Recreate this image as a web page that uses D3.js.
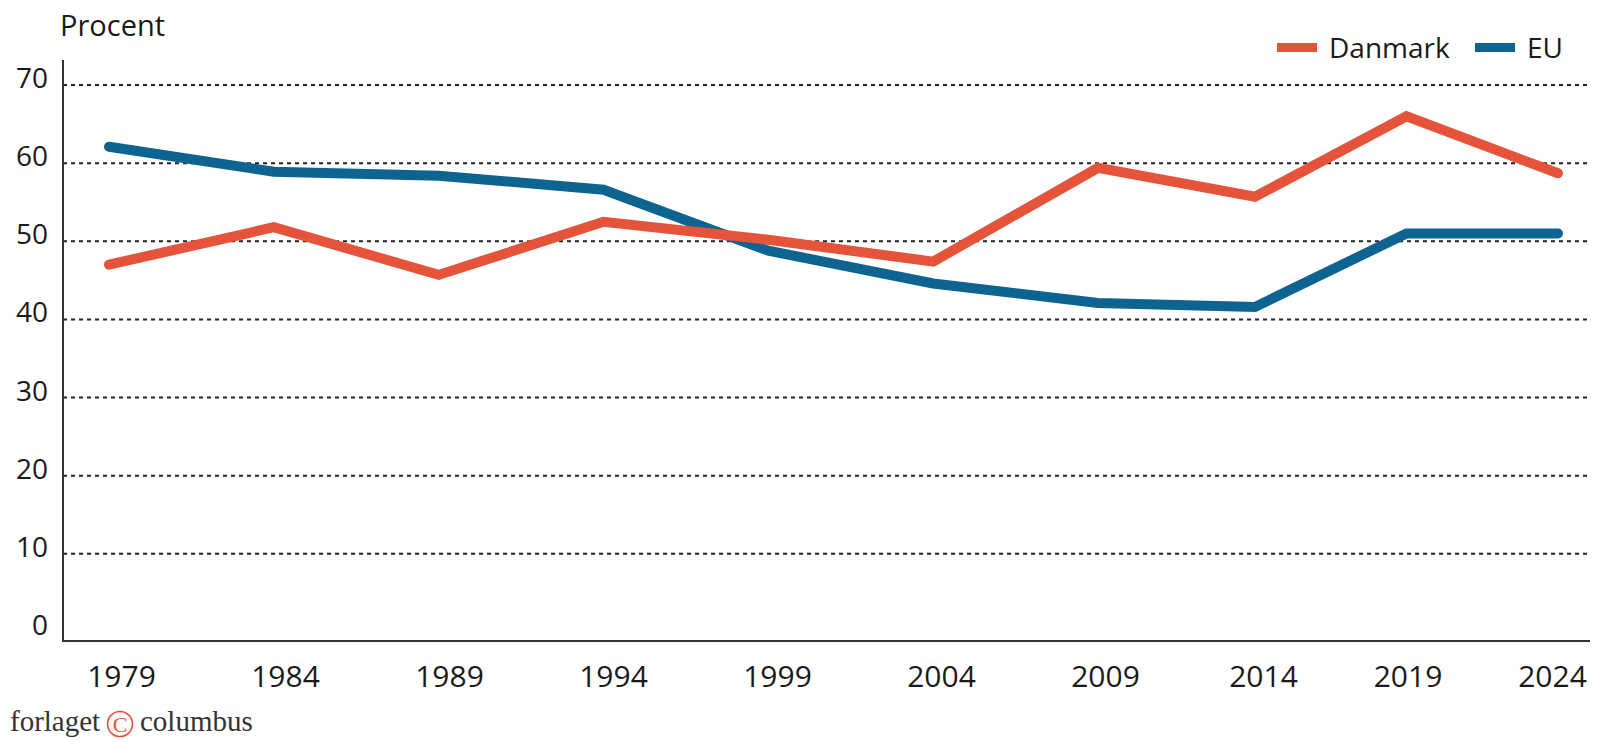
<!DOCTYPE html>
<html>
<head>
<meta charset="utf-8">
<script src="https://cdn.jsdelivr.net/npm/d3@7"></script>
<style>
  html, body { margin: 0; padding: 0; background: #fff; }
  svg { display: block; font-family: "Open Sans", "Noto Sans", sans-serif; }
</style>
</head>
<body>
<svg id="chart" width="1611" height="742"></svg>
<script>
// ─── DATA ───
const years = [1979, 1984, 1989, 1994, 1999, 2004, 2009, 2014, 2019, 2024];
const danmark = [47.0, 51.8, 45.7, 52.5, 50.2, 47.4, 59.4, 55.7, 66.0, 58.7];
const eu = [62.1, 58.9, 58.4, 56.6, 48.8, 44.6, 42.1, 41.6, 51.0, 51.0];
const yTicks = [0, 10, 20, 30, 40, 50, 60, 70];
const seriesNames = ['Danmark', 'EU'];

const COLORS = { Danmark: '#e5533a', EU: '#0e6491' };

const svg = d3.select('#chart');

// scales (the original's year spacing is a bit uneven, so piecewise)
const x = d3.scaleLinear().domain([1979, 2009, 2014, 2024]).range([109, 1098, 1255, 1558]);
const xLabel = d3.scaleLinear().domain([1979, 2009, 2014, 2024]).range([121, 1105, 1263, 1552]);
const y = d3.scaleLinear().domain([0, 70]).range([632, 85]);

const axisLeftX = 63;
const axisBottomY = 641;
const plotRight = 1590;

// gridlines
svg.append('g')
  .selectAll('line')
  .data(yTicks.filter(d => d > 0))
  .join('line')
  .attr('x1', axisLeftX).attr('x2', plotRight)
  .attr('y1', d => y(d)).attr('y2', d => y(d))
  .attr('stroke', '#222')
  .attr('stroke-width', 2)
  .attr('stroke-dasharray', '4,4');

// y labels
svg.append('g')
  .selectAll('text')
  .data(yTicks)
  .join('text')
  .attr('x', 48)
  .attr('y', d => y(d) + 3)
  .attr('text-anchor', 'end')
  .attr('font-size', '28px')
  .attr('fill', '#1a1a1a')
  .text(d => d);

// axes lines
svg.append('line')
  .attr('x1', axisLeftX).attr('x2', axisLeftX)
  .attr('y1', 60).attr('y2', axisBottomY + 1)
  .attr('stroke', '#333').attr('stroke-width', 2);

svg.append('g')
  .attr('transform', `translate(0,${axisBottomY})`)
  .call(d3.axisBottom(xLabel).tickValues(years).tickFormat(d3.format('d')).tickSize(0).tickPadding(25))
  .call(g => g.select('.domain').attr('d', `M${axisLeftX},0H${plotRight}`).attr('stroke', '#333').attr('stroke-width', 2))
  .call(g => g.selectAll('text').attr('font-size', '30px').attr('fill', '#1a1a1a')
    .attr('font-family', '"Open Sans", sans-serif'));

// y title
svg.append('text')
  .attr('x', 60).attr('y', 36)
  .attr('font-size', '29px')
  .attr('fill', '#1a1a1a')
  .text('Procent');

// lines
const line = d3.line().x((d, i) => x(years[i])).y(d => y(d));
const seriesData = { Danmark: danmark, EU: eu };

['EU', 'Danmark'].forEach(name => {
  svg.append('path')
    .datum(seriesData[name])
    .attr('d', line)
    .attr('fill', 'none')
    .attr('stroke', COLORS[name])
    .attr('stroke-width', 10)
    .attr('stroke-linecap', 'round')
    .attr('stroke-linejoin', 'miter');
});

// legend
const legendPos = { Danmark: 1277, EU: 1475 };
const legend = svg.append('g');
seriesNames.forEach(name => {
  const lx = legendPos[name];
  legend.append('rect')
    .attr('x', lx).attr('y', 43)
    .attr('width', 40).attr('height', 9)
    .attr('fill', COLORS[name]);
  legend.append('text')
    .attr('x', lx + 52).attr('y', 58)
    .attr('font-size', '28px')
    .attr('fill', '#1a1a1a')
    .text(name);
});

// publisher mark
const logo = svg.append('g').attr('font-family', '"Liberation Serif", "DejaVu Serif", serif');
logo.append('text')
  .attr('x', 10).attr('y', 731)
  .attr('font-size', '29px')
  .attr('fill', '#333')
  .text('forlaget');
logo.append('circle')
  .attr('cx', 120).attr('cy', 724)
  .attr('r', 12.5)
  .attr('fill', 'none')
  .attr('stroke', '#e5533a')
  .attr('stroke-width', 1.6);
logo.append('text')
  .attr('x', 120).attr('y', 732)
  .attr('text-anchor', 'middle')
  .attr('font-size', '22px')
  .attr('fill', '#e5533a')
  .text('C');
logo.append('text')
  .attr('x', 140).attr('y', 731)
  .attr('font-size', '29px')
  .attr('fill', '#333')
  .text('columbus');
</script>
</body>
</html>
